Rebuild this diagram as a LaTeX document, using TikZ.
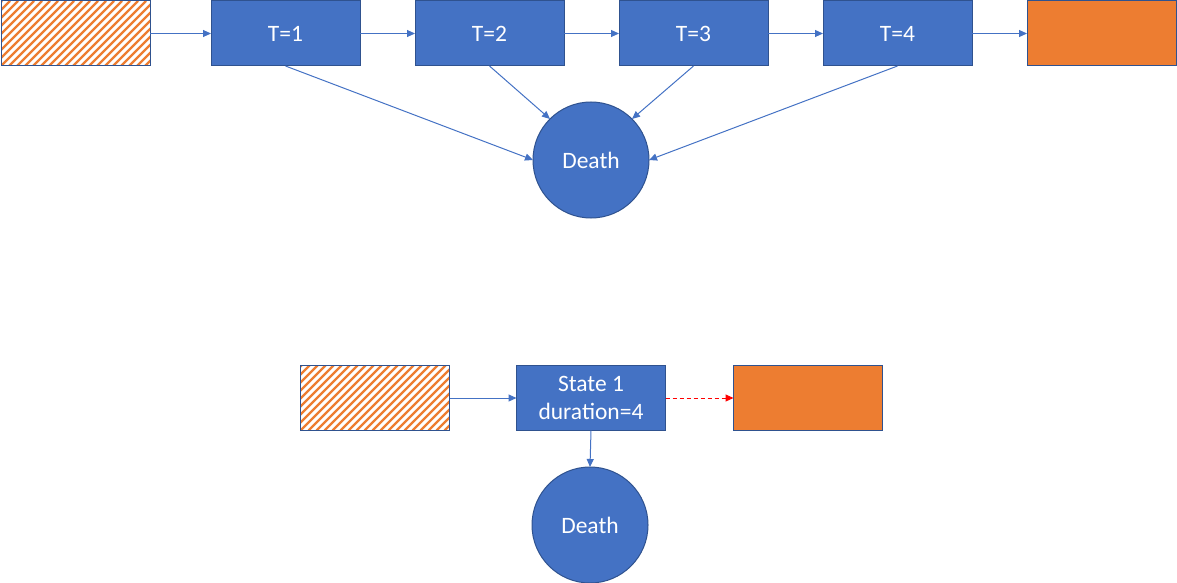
\documentclass[tikz,border=0pt]{standalone}
\usepackage{fontspec}
\setmainfont{Carlito}
\usetikzlibrary{arrows.meta}
\definecolor{bfill}{HTML}{4472C4}
\definecolor{bdraw}{HTML}{2F528F}
\definecolor{ofill}{HTML}{ED7D31}
\begin{document}
\begin{tikzpicture}[x=1pt,y=-1pt,
  box/.style={rectangle,minimum width=149pt,minimum height=65pt,inner sep=0pt,outer sep=0pt,draw=bdraw,line width=1pt,fill=bfill,text=white,font=\fontsize{23.5}{28.7}\selectfont,align=center},
  obox/.style={box,fill=ofill},
  hbox/.style={box,fill=white},
  deathc/.style={circle,minimum size=116pt,inner sep=0pt,outer sep=0pt,draw=bdraw,line width=1pt,fill=bfill,text=white,font=\fontsize{23.5}{28.7}\selectfont},
  conn/.style={draw=bfill,line width=1pt,-{Triangle[length=8pt,width=7pt]}},
  rconn/.style={draw=red,line width=1pt,dash pattern=on 4pt off 3pt,-{Triangle[length=8pt,width=7pt]}}
]
\useasboundingbox (0,0) rectangle (1177,583);
% hatched macro
\newcommand{\hatchat}[2]{%
  \begin{scope}
    \clip (#1-74.5,#2-32.5) rectangle (#1+74.5,#2+32.5);
    \foreach \k in {-80,-72,...,230}{
      \draw[ofill,line width=2.2pt] (#1-74.5+\k,#2+32.5) -- (#1-74.5+\k+65,#2-32.5);
    }
  \end{scope}}
% top row
\node[hbox] (h1) at (75.5,33.5) {};
\hatchat{75.5}{33.5}
\node[box,fill=none] (h1b) at (75.5,33.5) {};
\node[box] (t1) at (285.5,33.5) {T=1};
\node[box] (t2) at (489.5,33.5) {T=2};
\node[box] (t3) at (693.5,33.5) {T=3};
\node[box] (t4) at (897.5,33.5) {T=4};
\node[obox] (o1) at (1101.5,33.5) {};
\node[deathc] (d1) at (591,160) {Death};
\draw[conn] (h1.east) -- (t1.west);
\draw[conn] (t1.east) -- (t2.west);
\draw[conn] (t2.east) -- (t3.west);
\draw[conn] (t3.east) -- (t4.west);
\draw[conn] (t4.east) -- (o1.west);
\draw[conn] (t1.south) -- (d1.west);
\draw[conn] (t2.south) -- (d1.north west);
\draw[conn] (t3.south) -- (d1.north east);
\draw[conn] (t4.south) -- (d1.east);
% bottom row
\node[hbox] (h2) at (375,398) {};
\hatchat{375}{398}
\node[box,fill=none] (h2b) at (375,398) {};
\node[box] (s1) at (591,398) {State 1\\duration=4};
\node[obox] (o2) at (808,398) {};
\node[deathc] (d2) at (590,525) {Death};
\draw[conn] (h2.east) -- (s1.west);
\draw[conn] (s1.south) -- (d2.north);
\draw[rconn] (s1.east) -- (o2.west);
\end{tikzpicture}
\end{document}
